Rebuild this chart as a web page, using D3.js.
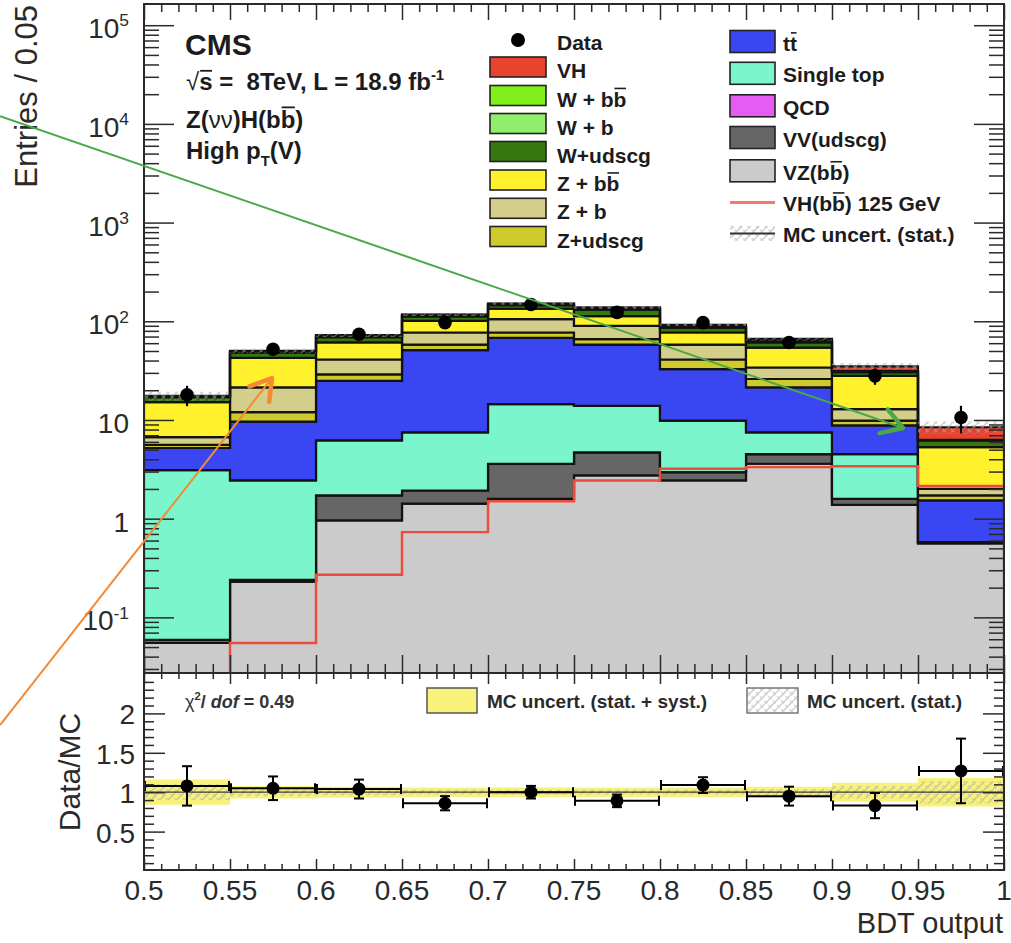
<!DOCTYPE html>
<html>
<head>
<meta charset="utf-8">
<script src="https://cdn.jsdelivr.net/npm/d3@7"></script>
<style>
  html, body { margin: 0; padding: 0; background: #ffffff; }
  svg { display: block; font-family: "Liberation Sans", Arial, Helvetica, sans-serif; }
</style>
</head>
<body>
<svg id="chart" width="1011" height="943"></svg>
<script>
// ---------------- data ----------------
const binEdges = [0.5, 0.55, 0.6, 0.65, 0.7, 0.75, 0.8, 0.85, 0.9, 0.95, 1.0];
const xTickValues = [0.5, 0.55, 0.6, 0.65, 0.7, 0.75, 0.8, 0.85, 0.9, 0.95, 1.0];
const xTickLabels = ["0.5", "0.55", "0.6", "0.65", "0.7", "0.75", "0.8", "0.85", "0.9", "0.95", "1"];
const yDecades = [-1, 0, 1, 2, 3, 4, 5];
const ratioTickValues = [0.5, 1, 1.5, 2];
const ratioTickLabels = ["0.5", "1", "1.5", "2"];

// background components, entries per bin (stacked bottom to top)
const vzBB      = [0.055, 0.23, 0.96, 1.42, 1.59, 2.74, 2.44, 3.6, 1.38, 0.56];
const vvUdscg   = [0.004, 0.01, 0.76, 0.51, 2.0, 1.96, 0.52, 0.9, 0.21, 0.01];
const qcd       = [0, 0, 0, 0, 0, 0, 0, 0, 0, 0];
const singleTop = [3.04, 2.2, 4.48, 5.57, 10.9, 9.2, 6.89, 3.0, 2.91, 0.01];
const ttbar     = [2.1, 7.16, 18.7, 43.5, 53.5, 44.1, 22.85, 13.9, 4.3, 0.95];
const zUdscg    = [0.4, 2.4, 4.1, 7, 9, 8, 8.3, 4.6, 1.05, 0.19];
const zB        = [1.1, 9.4, 12, 19, 28, 24, 17, 8, 3.05, 0.28];
const zBB       = [8.5, 21.1, 20, 24, 29, 23, 19, 20, 15.1, 3.3];
const wUdscg    = [1.8, 5.5, 8, 11, 12, 18, 9, 7, 2.6, 0.9];
const wB        = [0.3, 1.0, 1.5, 2, 2, 2.5, 1.5, 1, 0.5, 0.05];
const wBB       = [0.2, 1.0, 1.5, 2, 2, 2.5, 1.5, 1, 0.4, 0.05];
// VH(bb) 125 GeV signal (top of the stack and the red outline)
const vhSignal  = [0.012, 0.055, 0.27, 0.73, 1.5, 2.44, 3.2, 3.33, 3.4, 2.14];

// observed data
const dataCounts = [18, 52, 74, 97, 148, 123, 97, 61, 28, 10.6];
const dataErrors = [4.2, 7.2, 8.6, 9.8, 12.2, 11.1, 9.8, 7.8, 5.3, 3.3];

// ratio panel
const ratioValues = [1.08, 1.05, 1.04, 0.86, 1.0, 0.89, 1.09, 0.95, 0.83, 1.27];
const ratioErrors = [0.25, 0.15, 0.12, 0.09, 0.08, 0.08, 0.1, 0.12, 0.16, 0.41];
const mcTotalUnc  = [0.16, 0.08, 0.07, 0.06, 0.06, 0.06, 0.06, 0.07, 0.12, 0.18];
const mcStatUnc   = [0.1, 0.05, 0.04, 0.03, 0.03, 0.03, 0.03, 0.04, 0.08, 0.14];

const layerKeys   = ["vzBB", "vvUdscg", "qcd", "singleTop", "ttbar", "zUdscg", "zB", "zBB", "wUdscg", "wB", "wBB", "vh"];
const layerArrays = [vzBB, vvUdscg, qcd, singleTop, ttbar, zUdscg, zB, zBB, wUdscg, wB, wBB, vhSignal];
const layerColors = ["#cbcbcb", "#666666", "#e65cf2", "#7af5cc", "#3a46f2", "#cec92c", "#d3ce8a", "#fff22c", "#35780e", "#90ee6a", "#7ff01c", "#e8432f"];

// ---------------- layout ----------------
const svg = d3.select("#chart");
const L = 144, R = 1004, T = 4, MB = 673, RB = 870;
const x  = d3.scaleLinear().domain([0.5, 1.0]).range([L, R]);
const y  = d3.scaleLog().domain([0.0273, 1.64e5]).range([MB, T]);
const yr = d3.scaleLinear().domain([0, 2.5]).range([871, 674]);
const INK = "#1c1c1c";

const defs = svg.append("defs");
defs.append("clipPath").attr("id", "clipMain").append("rect")
  .attr("x", L).attr("y", T).attr("width", R - L).attr("height", MB - T);
defs.append("clipPath").attr("id", "clipRatio").append("rect")
  .attr("x", L).attr("y", MB).attr("width", R - L).attr("height", RB - MB);
const hatch = defs.append("pattern").attr("id", "hatchStat")
  .attr("patternUnits", "userSpaceOnUse").attr("width", 6).attr("height", 6)
  .attr("patternTransform", "rotate(45)");
hatch.append("line").attr("x1", 0).attr("y1", 0).attr("x2", 0).attr("y2", 6)
  .attr("stroke", "#9a9a9a").attr("stroke-width", 1.3).attr("stroke-dasharray", "2.5 1.5");
hatch.append("line").attr("x1", 0).attr("y1", 3).attr("x2", 6).attr("y2", 3)
  .attr("stroke", "#b5b5b5").attr("stroke-width", 1).attr("stroke-dasharray", "2 2");

// step points for a histogram band
function stepPoints(lo, hi) {
  const pts = [];
  for (let i = 0; i < binEdges.length - 1; i++) {
    pts.push({ x: binEdges[i], a: lo[i], b: hi[i] });
    pts.push({ x: binEdges[i + 1], a: lo[i], b: hi[i] });
  }
  return pts;
}
const floorV = v => Math.max(v, 1e-4);
const bandArea = d3.area().x(d => x(d.x)).y0(d => y(floorV(d.a))).y1(d => y(floorV(d.b)));
const stepLine = d3.line().x(d => x(d.x)).y(d => y(floorV(d.b)));

// ---------------- main panel ----------------
const gMain = svg.append("g").attr("clip-path", "url(#clipMain)");

const rows = binEdges.slice(0, -1).map((_, i) => {
  const r = {};
  layerKeys.forEach((k, j) => { r[k] = layerArrays[j][i]; });
  return r;
});
const stacked = d3.stack().keys(layerKeys)(rows);

stacked.forEach((s, j) => {
  const lo = s.map(d => d[0]), hi = s.map(d => d[1]);
  gMain.append("path")
    .attr("d", bandArea(stepPoints(lo, hi)))
    .attr("fill", layerColors[j])
    .attr("stroke", "#121212").attr("stroke-width", 2.2)
    .attr("stroke-linejoin", "miter");
});

const mcTotal = stacked[stacked.length - 1].map(d => d[1]);

// MC statistical band around the stack top
gMain.append("path")
  .attr("d", bandArea(stepPoints(mcTotal.map((v, i) => v * (1 - mcStatUnc[i])), mcTotal.map((v, i) => v * (1 + mcStatUnc[i])))))
  .attr("fill", "url(#hatchStat)").attr("stroke", "none");

// signal outline
gMain.append("path")
  .attr("d", stepLine(stepPoints(vhSignal, vhSignal)))
  .attr("fill", "none").attr("stroke", "#ee4b3b").attr("stroke-width", 2.4);

// data points
const centers = binEdges.slice(0, -1).map((e, i) => (e + binEdges[i + 1]) / 2);
const gData = gMain.append("g");
centers.forEach((c, i) => {
  gData.append("line")
    .attr("x1", x(c)).attr("x2", x(c))
    .attr("y1", y(dataCounts[i] + dataErrors[i])).attr("y2", y(dataCounts[i] - dataErrors[i]))
    .attr("stroke", "#000").attr("stroke-width", 2.2);
  gData.append("circle").attr("cx", x(c)).attr("cy", y(dataCounts[i])).attr("r", 6.8).attr("fill", "#000");
});

// ---------------- ratio panel ----------------
const gRatio = svg.append("g").attr("clip-path", "url(#clipRatio)");
const ratioArea = d3.area().x(d => x(d.x)).y0(d => yr(d.a)).y1(d => yr(d.b));
const ones = binEdges.slice(0, -1).map(() => 1);
gRatio.append("path")
  .attr("d", ratioArea(stepPoints(ones.map((v, i) => v - mcTotalUnc[i]), ones.map((v, i) => v + mcTotalUnc[i]))))
  .attr("fill", "#f8f27a").attr("stroke", "none");
gRatio.append("path")
  .attr("d", ratioArea(stepPoints(ones.map((v, i) => v - mcStatUnc[i]), ones.map((v, i) => v + mcStatUnc[i]))))
  .attr("fill", "url(#hatchStat)").attr("stroke", "none");
gRatio.append("line")
  .attr("x1", L).attr("x2", R).attr("y1", yr(1)).attr("y2", yr(1))
  .attr("stroke", "#3a3a3a").attr("stroke-width", 1.3);

centers.forEach((c, i) => {
  const g = gRatio.append("g").attr("stroke", "#000").attr("stroke-width", 2);
  const yy = yr(ratioValues[i]);
  const x0 = x(binEdges[i]), x1 = x(binEdges[i + 1]);
  g.append("line").attr("x1", x0).attr("x2", x1).attr("y1", yy).attr("y2", yy);
  g.append("line").attr("x1", x0 + 1).attr("x2", x0 + 1).attr("y1", yy - 5).attr("y2", yy + 5);
  g.append("line").attr("x1", x1 - 1).attr("x2", x1 - 1).attr("y1", yy - 5).attr("y2", yy + 5);
  const yt = yr(ratioValues[i] + ratioErrors[i]), yb = yr(ratioValues[i] - ratioErrors[i]);
  g.append("line").attr("x1", x(c)).attr("x2", x(c)).attr("y1", yt).attr("y2", yb);
  g.append("line").attr("x1", x(c) - 5).attr("x2", x(c) + 5).attr("y1", yt).attr("y2", yt);
  g.append("line").attr("x1", x(c) - 5).attr("x2", x(c) + 5).attr("y1", yb).attr("y2", yb);
  gRatio.append("circle").attr("cx", x(c)).attr("cy", yy).attr("r", 6.5).attr("fill", "#000");
});

// ---------------- axes (ticks drawn inward) ----------------
function tickGroup(axis, tx, ty) {
  const g = svg.append("g").attr("transform", `translate(${tx},${ty})`).call(axis);
  g.select(".domain").remove();
  g.selectAll("text").remove();
  g.selectAll("line").attr("stroke", "#2a2a2a").attr("stroke-width", 1.5);
  return g;
}
const xMinor = d3.range(50, 101).map(v => v / 100).filter(v => Math.round(v * 100) % 5 !== 0);
const yMinor = [];
for (let d = -2; d <= 5; d++) for (let k = 2; k <= 9; k++) {
  const v = k * Math.pow(10, d);
  if (v > 0.0273 && v < 1.64e5) yMinor.push(v);
}
const yMajor = yDecades.map(d => Math.pow(10, d));
const rMinor = d3.range(1, 25).map(v => v / 10).filter(v => Math.round(v * 10) % 5 !== 0);

// main panel
tickGroup(d3.axisBottom(x).tickValues(xTickValues).tickSize(-18).tickFormat(""), 0, MB);
tickGroup(d3.axisBottom(x).tickValues(xMinor).tickSize(-9).tickFormat(""), 0, MB);
tickGroup(d3.axisTop(x).tickValues(xTickValues).tickSize(-16).tickFormat(""), 0, T);
tickGroup(d3.axisTop(x).tickValues(xMinor).tickSize(-8).tickFormat(""), 0, T);
tickGroup(d3.axisLeft(y).tickValues(yMajor).tickSize(-30).tickFormat(""), L, 0);
tickGroup(d3.axisLeft(y).tickValues(yMinor).tickSize(-15).tickFormat(""), L, 0);
tickGroup(d3.axisRight(y).tickValues(yMajor).tickSize(-30).tickFormat(""), R, 0);
tickGroup(d3.axisRight(y).tickValues(yMinor).tickSize(-15).tickFormat(""), R, 0);
// ratio panel
tickGroup(d3.axisTop(x).tickValues(xTickValues).tickSize(-11).tickFormat(""), 0, MB);
tickGroup(d3.axisTop(x).tickValues(xMinor).tickSize(-6).tickFormat(""), 0, MB);
tickGroup(d3.axisBottom(x).tickValues(xTickValues).tickSize(-11).tickFormat(""), 0, RB);
tickGroup(d3.axisBottom(x).tickValues(xMinor).tickSize(-6).tickFormat(""), 0, RB);
tickGroup(d3.axisLeft(yr).tickValues(ratioTickValues).tickSize(-21).tickFormat(""), L, 0);
tickGroup(d3.axisLeft(yr).tickValues(rMinor).tickSize(-10).tickFormat(""), L, 0);
tickGroup(d3.axisRight(yr).tickValues(ratioTickValues).tickSize(-21).tickFormat(""), R, 0);
tickGroup(d3.axisRight(yr).tickValues(rMinor).tickSize(-10).tickFormat(""), R, 0);

// frames
svg.append("rect").attr("x", L).attr("y", T).attr("width", R - L).attr("height", MB - T)
  .attr("fill", "none").attr("stroke", "#2a2a2a").attr("stroke-width", 2);
svg.append("rect").attr("x", L).attr("y", MB).attr("width", R - L).attr("height", RB - MB)
  .attr("fill", "none").attr("stroke", "#2a2a2a").attr("stroke-width", 2);

// ---------------- text helper (superscripts, subscripts, overbars) ----------------
function richText(parent, px, py, parts, o) {
  const size = o.size;
  const t = parent.append("text").attr("x", px).attr("y", py)
    .attr("font-size", size).attr("font-weight", o.weight || "bold")
    .attr("fill", o.fill || INK).attr("text-anchor", o.anchor || "start")
    .attr("font-style", o.italic ? "italic" : "normal")
    .style("white-space", "pre");
  let cur = 0, idx = 0;
  const bars = [];
  parts.forEach(p => {
    const shift = p.sup ? -0.42 * size : (p.sub ? 0.28 * size : 0);
    const ts = t.append("tspan").text(p.t);
    if (shift - cur !== 0) ts.attr("dy", shift - cur);
    cur = shift;
    if (p.sup || p.sub) ts.attr("font-size", size * 0.62);
    if (p.weight) ts.attr("font-weight", p.weight);
    if (p.italic) ts.attr("font-style", "italic");
    if (p.bar) bars.push([idx, idx + p.t.length - 1, p.bar]);
    idx += p.t.length;
  });
  const node = t.node();
  bars.forEach(([a, b, lift]) => {
    const s = node.getStartPositionOfChar(a), e = node.getEndPositionOfChar(b);
    const yy = py - size * (typeof lift === "number" ? lift : 0.86);
    parent.append("line").attr("x1", s.x + size * 0.04).attr("x2", e.x - size * 0.02)
      .attr("y1", yy).attr("y2", yy)
      .attr("stroke", o.fill || INK).attr("stroke-width", Math.max(1.3, size * 0.075));
  });
  return t;
}

// ---------------- tick labels ----------------
const gLab = svg.append("g");
yDecades.forEach(d => {
  const v = Math.pow(10, d);
  const parts = d === 0 ? [{ t: "1" }] : d === 1 ? [{ t: "10" }] : [{ t: "10" }, { t: String(d), sup: true }];
  richText(gLab, 129, y(v) + 13, parts, { size: 28, weight: "normal", anchor: "end", fill: "#2a2a2a" });
});
xTickValues.forEach((v, i) => {
  gLab.append("text").attr("x", x(v)).attr("y", 900).attr("text-anchor", "middle")
    .attr("font-size", 28).attr("fill", "#2a2a2a").text(xTickLabels[i]);
});
ratioTickValues.forEach((v, i) => {
  gLab.append("text").attr("x", 135).attr("y", yr(v) + 11).attr("text-anchor", "end")
    .attr("font-size", 28).attr("fill", "#2a2a2a").text(ratioTickLabels[i]);
});

// axis titles
svg.append("text").attr("transform", "translate(37,5) rotate(-90)")
  .attr("text-anchor", "end").attr("font-size", 31).attr("fill", "#2a2a2a").text("Entries / 0.05");
svg.append("text").attr("transform", "translate(80,772) rotate(-90)")
  .attr("text-anchor", "middle").attr("font-size", 30).attr("fill", "#2a2a2a").text("Data/MC");
svg.append("text").attr("x", 1003).attr("y", 933).attr("text-anchor", "end")
  .attr("font-size", 29).attr("fill", "#2a2a2a").text("BDT output");

// ---------------- header ----------------
const gHead = svg.append("g");
gHead.append("text").attr("x", 185).attr("y", 55).attr("font-size", 30).attr("font-weight", "bold")
  .attr("fill", INK).text("CMS");
richText(gHead, 186, 90, [{ t: "√", weight: "normal" }, { t: "s", bar: 0.8 }, { t: " =  8TeV, L = 18.9 fb" }, { t: "-1", sup: true }], { size: 24 });
richText(gHead, 186, 128, [{ t: "Z(" }, { t: "νν", weight: "normal" }, { t: ")H(b" }, { t: "b", bar: true }, { t: ")" }], { size: 24 });
richText(gHead, 186, 159, [{ t: "High p" }, { t: "T", sub: true }, { t: "(V)" }], { size: 24 });

// ---------------- legend ----------------
const gLeg = svg.append("g");
const legLeft = [
  { parts: [{ t: "VH" }], color: layerColors[11], cy: 67 },
  { parts: [{ t: "W + b" }, { t: "b", bar: true }], color: layerColors[10], cy: 95.5 },
  { parts: [{ t: "W + b" }], color: layerColors[9], cy: 123.5 },
  { parts: [{ t: "W+udscg" }], color: layerColors[8], cy: 151.5 },
  { parts: [{ t: "Z + b" }, { t: "b", bar: true }], color: layerColors[7], cy: 180 },
  { parts: [{ t: "Z + b" }], color: layerColors[6], cy: 208.3 },
  { parts: [{ t: "Z+udscg" }], color: layerColors[5], cy: 236.5 }
];
gLeg.append("circle").attr("cx", 518).attr("cy", 40).attr("r", 7).attr("fill", "#000");
richText(gLeg, 557, 50, [{ t: "Data" }], { size: 21 });
legLeft.forEach(e => {
  gLeg.append("rect").attr("x", 490).attr("y", e.cy - 10).attr("width", 56).attr("height", 20)
    .attr("fill", e.color).attr("stroke", "#222").attr("stroke-width", 1.6);
  richText(gLeg, 557, e.cy + 11, e.parts, { size: 21 });
});

const legRight = [
  { parts: [{ t: "t" }, { t: "t", bar: 0.84 }], color: layerColors[4], cy: 41.5 },
  { parts: [{ t: "Single top" }], color: layerColors[3], cy: 73.3 },
  { parts: [{ t: "QCD" }], color: layerColors[2], cy: 105.8 },
  { parts: [{ t: "VV(udscg)" }], color: layerColors[1], cy: 137.5 },
  { parts: [{ t: "VZ(b" }, { t: "b", bar: true }, { t: ")" }], color: layerColors[0], cy: 170.8 }
];
legRight.forEach(e => {
  gLeg.append("rect").attr("x", 730).attr("y", e.cy - 11).attr("width", 45).attr("height", 22)
    .attr("fill", e.color).attr("stroke", "#222").attr("stroke-width", 1.6);
  richText(gLeg, 783, e.cy + 9, e.parts, { size: 21 });
});
gLeg.append("line").attr("x1", 730).attr("x2", 775).attr("y1", 202.5).attr("y2", 202.5)
  .attr("stroke", "#f07a6e").attr("stroke-width", 3);
richText(gLeg, 783, 211, [{ t: "VH(b" }, { t: "b", bar: true }, { t: ") 125 GeV" }], { size: 21 });
gLeg.append("rect").attr("x", 730).attr("y", 226).attr("width", 45).attr("height", 15)
  .attr("fill", "url(#hatchStat)");
gLeg.append("line").attr("x1", 730).attr("x2", 775).attr("y1", 233.5).attr("y2", 233.5)
  .attr("stroke", "#333").attr("stroke-width", 2);
richText(gLeg, 783, 242, [{ t: "MC uncert. (stat.)" }], { size: 21 });

// ratio panel legend and fit quality
const gRLeg = svg.append("g");
richText(gRLeg, 185, 708, [{ t: "χ", weight: "normal" }, { t: "2", sup: true }, { t: "/ " }, { t: "dof", italic: true }, { t: " = 0.49" }], { size: 18, fill: "#333" });
gRLeg.append("rect").attr("x", 427).attr("y", 688).attr("width", 50).attr("height", 25)
  .attr("fill", "#f8f27a").attr("stroke", "#555").attr("stroke-width", 1.5);
richText(gRLeg, 487, 708, [{ t: "MC uncert. (stat. + syst.)" }], { size: 19, fill: "#2a2a2a" });
gRLeg.append("rect").attr("x", 747).attr("y", 688).attr("width", 51).attr("height", 25)
  .attr("fill", "url(#hatchStat)").attr("stroke", "#777").attr("stroke-width", 1.5);
richText(gRLeg, 807, 708, [{ t: "MC uncert. (stat.)" }], { size: 19, fill: "#2a2a2a" });

// ---------------- annotation arrows (in data coordinates) ----------------
const arrowNotes = [
  { from: [0.4163, 1.2e4], to: [0.9413, 8.3], color: "#4aa84a" },
  { from: [0.4163, 0.0081], to: [0.5744, 26.6], color: "#f28a36" }
];
arrowNotes.forEach(a => {
  const x0 = x(a.from[0]), y0 = y(a.from[1]), x1 = x(a.to[0]), y1 = y(a.to[1]);
  svg.append("line").attr("x1", x0).attr("y1", y0).attr("x2", x1).attr("y2", y1)
    .attr("stroke", a.color).attr("stroke-width", 2);
  const ang = Math.atan2(y1 - y0, x1 - x0) + Math.PI;
  const len = 24, spread = 0.55;
  const w1 = [x1 + len * Math.cos(ang + spread), y1 + len * Math.sin(ang + spread)];
  const w2 = [x1 + len * Math.cos(ang - spread), y1 + len * Math.sin(ang - spread)];
  svg.append("path").attr("d", `M${w1[0]},${w1[1]} L${x1},${y1} L${w2[0]},${w2[1]}`)
    .attr("fill", "none").attr("stroke", a.color).attr("stroke-width", 4.5)
    .attr("stroke-linecap", "round").attr("stroke-linejoin", "round");
});
</script>
</body>
</html>
